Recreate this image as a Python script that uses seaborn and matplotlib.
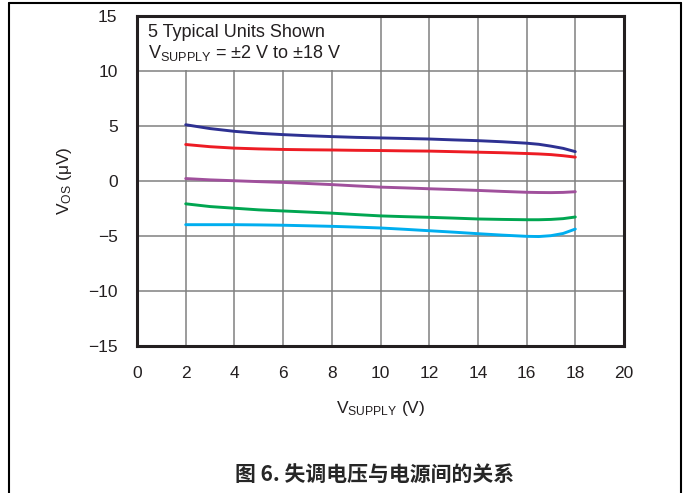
import pandas as pd
import seaborn as sns
import matplotlib.pyplot as plt
from matplotlib.lines import Line2D
from matplotlib.patches import Rectangle

# 电源电压 (V)
vsupply = [2, 3, 4, 5, 6, 7, 8, 9, 10, 11, 12, 13, 14, 15, 16, 16.5, 17, 17.5, 18]

# 5 个典型器件的失调电压 (uV)
unit1 = [5.1, 4.75, 4.5, 4.32, 4.2, 4.1, 4.02, 3.95, 3.9, 3.85, 3.8, 3.72, 3.65, 3.55, 3.42, 3.32, 3.15, 2.95, 2.65]
unit2 = [3.3, 3.1, 2.97, 2.9, 2.85, 2.82, 2.8, 2.77, 2.75, 2.72, 2.7, 2.65, 2.6, 2.55, 2.48, 2.44, 2.38, 2.28, 2.15]
unit3 = [0.2, 0.08, 0.0, -0.08, -0.15, -0.25, -0.35, -0.47, -0.58, -0.65, -0.73, -0.8, -0.88, -0.97, -1.05, -1.07, -1.08, -1.06, -1.0]
unit4 = [-2.1, -2.35, -2.5, -2.65, -2.75, -2.85, -2.95, -3.08, -3.2, -3.27, -3.33, -3.4, -3.48, -3.52, -3.55, -3.55, -3.52, -3.45, -3.3]
unit5 = [-4.0, -4.0, -4.0, -4.02, -4.05, -4.1, -4.15, -4.22, -4.3, -4.42, -4.55, -4.68, -4.82, -4.95, -5.06, -5.08, -5.0, -4.8, -4.4]

units = ["U1", "U2", "U3", "U4", "U5"]
colors = ["#2e3192", "#ed1c24", "#a0509c", "#00a651", "#00aeef"]

xticks = [0, 2, 4, 6, 8, 10, 12, 14, 16, 18, 20]
yticks = [-15, -10, -5, 0, 5, 10, 15]

rows = []
for name, vals in zip(units, [unit1, unit2, unit3, unit4, unit5]):
    for v, y in zip(vsupply, vals):
        rows.append({"vsupply": v, "vos": y, "unit": name})
df = pd.DataFrame(rows)

sns.set_style("white")
plt.rcParams['font.family'] = ['Liberation Sans', 'DejaVu Sans']
plt.rcParams['mathtext.fontset'] = 'custom'
plt.rcParams['mathtext.rm'] = 'Liberation Sans'
plt.rcParams['mathtext.it'] = 'Liberation Sans'

fig = plt.figure(figsize=(6.83, 4.93), dpi=100)
ax = fig.add_axes([137 / 683, 1 - 345.5 / 493, 487 / 683, 329.5 / 493])

sns.lineplot(data=df, x="vsupply", y="vos", hue="unit", palette=colors,
             linewidth=2.1, legend=False, ax=ax, zorder=3)

ax.set_xlim(0, 20)
ax.set_ylim(-15, 15)
ax.set_xticks(xticks)
ax.set_yticks(yticks)
ax.set_yticklabels([str(t).replace("-", "\u2212") for t in yticks])
ax.tick_params(axis="both", length=0, labelsize=12.5, colors="#231f20")
ax.tick_params(axis="x", pad=15)
ax.tick_params(axis="y", pad=14)
ax.grid(True, color="#808080", linewidth=1.1)
ax.set_axisbelow(True)
for sp in ax.spines.values():
    sp.set_color("#231f20")
    sp.set_linewidth(2.2)

# 文字框挡住左上角网格
ax.add_patch(Rectangle((0, 10.12), 9.93, 4.88, facecolor="white", edgecolor="none", zorder=1))
ax.text(0.45, 13.1, "5 Typical Units Shown", fontsize=13, va="baseline", ha="left",
        color="#231f20", zorder=4)
ax.text(0.45, 11.17, "V$_{\\mathrm{SUPPLY}}$ = \u00b12 V to \u00b118 V", fontsize=13,
        va="baseline", ha="left", color="#231f20", zorder=4)

ax.set_xlabel("V$_{\\mathrm{SUPPLY}}$ (V)", fontsize=12.5, color="#231f20", labelpad=13)
ax.set_ylabel("V$_{\\mathrm{OS}}$ (\u03bcV)", fontsize=12.5, color="#231f20", labelpad=10)

fig.text(375 / 683, 1 - 474 / 493, "图 6. 失调电压与电源间的关系", fontsize=15,
         fontweight="bold", ha="center", va="center",
         family=['Noto Sans CJK SC', 'DejaVu Sans'])

# 外框
fig.add_artist(Line2D([9 / 683, 9 / 683], [0, 1 - 3 / 493], transform=fig.transFigure, color="black", lw=1.5))
fig.add_artist(Line2D([681 / 683, 681 / 683], [0, 1 - 3 / 493], transform=fig.transFigure, color="black", lw=1.5))
fig.add_artist(Line2D([9 / 683, 681 / 683], [1 - 3 / 493, 1 - 3 / 493], transform=fig.transFigure, color="black", lw=1.5))

plt.savefig("out.png", dpi=100)
